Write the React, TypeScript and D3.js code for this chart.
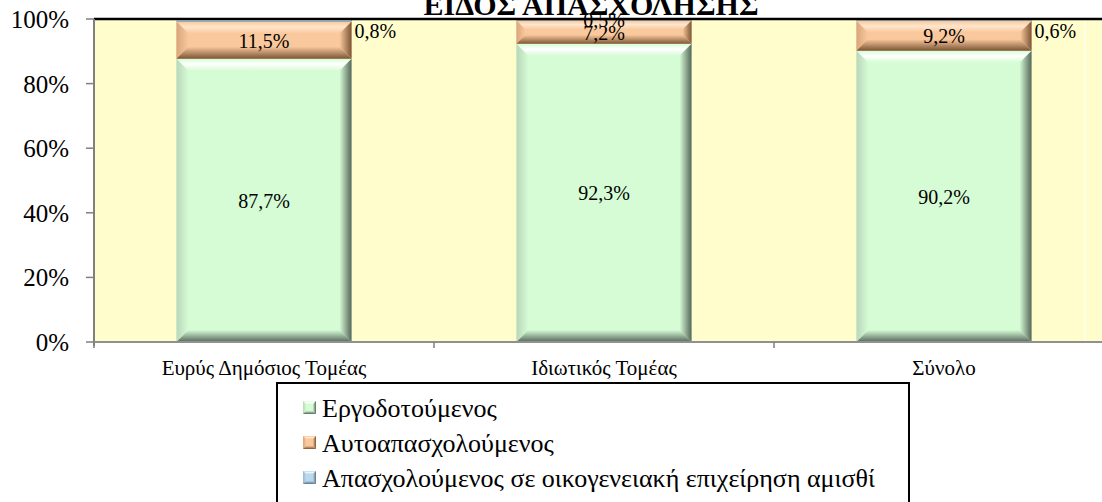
import React from 'react';
import * as d3 from 'd3';

const title = 'ΕΙΔΟΣ ΑΠΑΣΧΟΛΗΣΗΣ';
const categories = ['Ευρύς Δημόσιος Τομέας', 'Ιδιωτικός Τομέας', 'Σύνολο'];
const seriesNames = [
  'Εργοδοτούμενος',
  'Αυτοαπασχολούμενος',
  'Απασχολούμενος σε οικογενειακή επιχείρηση αμισθί',
];
const employees = [87.7, 92.3, 90.2];
const selfEmployed = [11.5, 7.2, 9.2];
const familyUnpaid = [0.8, 0.5, 0.6];
const yTicks = [0, 20, 40, 60, 80, 100];

const W = 1102;
const H = 502;
const FONT = "'Liberation Serif', 'Times New Roman', 'DejaVu Serif', serif";

const palettes = [
  { base: '#D5FCD5', light: '#FFFFFF', side: '#B9D6B9', dark: '#56665A' },
  { base: '#F9C89C', light: '#FFE6CC', side: '#D9A67B', dark: '#7B5535' },
  { base: '#BCD8EC', light: '#EAF5FC', side: '#9AB8CC', dark: '#5E7488' },
];

const fmt = (v: number) => d3.format('.1f')(v).replace('.', ',') + '%';

function Bevel({ x, y, w, h, p, id, maxB = 12 }: any) {
  const b = Math.max(0.5, Math.min(maxB, h / 2.6, w / 4));
  return (
    <g>
      <rect x={x} y={y} width={w} height={h} fill={p.base} />
      <polygon
        points={`${x},${y} ${x + w},${y} ${x + w - b},${y + b} ${x + b},${y + b}`}
        fill={`url(#${id}-top)`}
      />
      <polygon
        points={`${x},${y} ${x + b},${y + b} ${x + b},${y + h - b} ${x},${y + h}`}
        fill={`url(#${id}-left)`}
      />
      <polygon
        points={`${x + w},${y} ${x + w},${y + h} ${x + w - b},${y + h - b} ${x + w - b},${y + b}`}
        fill={`url(#${id}-right)`}
      />
      <polygon
        points={`${x},${y + h} ${x + w},${y + h} ${x + w - b},${y + h - b} ${x + b},${y + h - b}`}
        fill={`url(#${id}-bottom)`}
      />
    </g>
  );
}

export default function App() {
  const plotLeft = 94;
  const plotTop = 19;
  const plotBottom = 342;
  const plotRight = 1114;

  const x = d3.scaleBand<string>().domain(categories).range([plotLeft, plotRight]).padding(0);
  const y = d3.scaleLinear().domain([0, 100]).range([plotBottom, plotTop]);
  const barW = x.bandwidth() * 0.515;

  const rows = categories.map((c, i) => ({
    cat: c,
    s0: employees[i],
    s1: selfEmployed[i],
    s2: familyUnpaid[i],
  }));
  const keys = ['s0', 's1', 's2'];
  const stacked = d3.stack<any>().keys(keys)(rows);

  const gradDefs = palettes.map((p, k) => (
    <g key={k}>
      <linearGradient id={`g${k}-top`} x1="0" y1="0" x2="0" y2="1">
        <stop offset="0" stopColor={p.base} />
        <stop offset="0.45" stopColor={p.light} />
        <stop offset="1" stopColor={p.base} />
      </linearGradient>
      <linearGradient id={`g${k}-left`} x1="0" y1="0" x2="1" y2="0">
        <stop offset="0" stopColor={p.side} />
        <stop offset="1" stopColor={p.base} />
      </linearGradient>
      <linearGradient id={`g${k}-right`} x1="0" y1="0" x2="1" y2="0">
        <stop offset="0" stopColor={p.base} />
        <stop offset="1" stopColor={p.dark} />
      </linearGradient>
      <linearGradient id={`g${k}-bottom`} x1="0" y1="0" x2="0" y2="1">
        <stop offset="0" stopColor={p.base} />
        <stop offset="1" stopColor={p.dark} />
      </linearGradient>
    </g>
  ));

  const smallLabelBaseline = plotTop + 19;

  return (
    <svg
      width={W}
      height={H}
      style={{ position: 'absolute', left: 0, top: 0, background: '#fff', fontFamily: FONT }}
    >
      <defs>{gradDefs}</defs>
      <rect x={0} y={0} width={W} height={H} fill="#fff" />

      {/* plot area */}
      <rect x={plotLeft} y={plotTop} width={plotRight - plotLeft} height={plotBottom - plotTop} fill="#FFFDCC" />
      <line x1={1085} x2={1085} y1={plotTop} y2={plotBottom} stroke="#FFFFFF" strokeWidth={1} />

      {/* bars */}
      {stacked.map((series, si) =>
        series.map((d, ci) => {
          const cat = categories[ci];
          const cx = (x(cat) as number) + x.bandwidth() / 2;
          const x0 = cx - barW / 2;
          const yTop = y(d[1]);
          const yBot = y(d[0]);
          return (
            <Bevel
              key={`${si}-${ci}`}
              x={x0}
              y={yTop}
              w={barW}
              h={yBot - yTop}
              p={palettes[si]}
              id={`g${si}`}
            />
          );
        })
      )}

      {/* top border */}
      <line x1={plotLeft} x2={plotRight} y1={plotTop} y2={plotTop} stroke="#000" strokeWidth={2.5} />

      {/* y axis */}
      <line x1={plotLeft} x2={plotLeft} y1={plotTop} y2={plotBottom + 4} stroke="#808080" strokeWidth={2} />
      {yTicks.map((t) => (
        <g key={t}>
          <line x1={plotLeft - 8} x2={plotLeft} y1={y(t)} y2={y(t)} stroke="#808080" strokeWidth={1.5} />
          <text x={69} y={y(t) + 9} textAnchor="end" fontSize={25} fill="#000">
            {t}%
          </text>
        </g>
      ))}

      {/* x axis */}
      <line x1={plotLeft} x2={plotRight} y1={plotBottom} y2={plotBottom} stroke="#909090" strokeWidth={2} />
      {categories.map((c) => (
        <line
          key={c}
          x1={x(c) as number}
          x2={x(c) as number}
          y1={plotBottom}
          y2={plotBottom + 6}
          stroke="#808080"
          strokeWidth={1.5}
        />
      ))}
      {categories.map((c) => (
        <text
          key={c}
          x={(x(c) as number) + x.bandwidth() / 2}
          y={375}
          textAnchor="middle"
          fontSize={21}
          fill="#000"
        >
          {c}
        </text>
      ))}

      {/* data labels */}
      {stacked.map((series, si) =>
        series.map((d, ci) => {
          const cat = categories[ci];
          const cx = (x(cat) as number) + x.bandwidth() / 2;
          const v = d[1] - d[0];
          const yMid = (y(d[0]) + y(d[1])) / 2;
          if (v >= 2) {
            return (
              <text key={`l${si}-${ci}`} x={cx} y={yMid + 7.5} textAnchor="middle" fontSize={20} fill="#000">
                {fmt(v)}
              </text>
            );
          }
          if (ci === 1) {
            return (
              <text key={`l${si}-${ci}`} x={cx} y={plotTop + 8} textAnchor="middle" fontSize={20} fill="#000">
                {fmt(v)}
              </text>
            );
          }
          return (
            <text key={`l${si}-${ci}`} x={cx + barW / 2 + 3} y={smallLabelBaseline} textAnchor="start" fontSize={20} fill="#000">
              {fmt(v)}
            </text>
          );
        })
      )}

      {/* title */}
      <text x={591} y={15} textAnchor="middle" fontSize={30} fontWeight="bold" fill="#000">
        {title}
      </text>

      {/* legend */}
      <rect x={277} y={383} width={632} height={200} fill="#fff" stroke="#000" strokeWidth={2} />
      {seriesNames.map((n, i) => {
        const base = 417 + i * 35;
        return (
          <g key={n}>
            <Bevel x={303} y={base - 16} w={13} h={13} p={palettes[i]} id={`g${i}`} maxB={5} />
            <text x={322} y={base} fontSize={26} fill="#000">
              {n}
            </text>
          </g>
        );
      })}
    </svg>
  );
}
